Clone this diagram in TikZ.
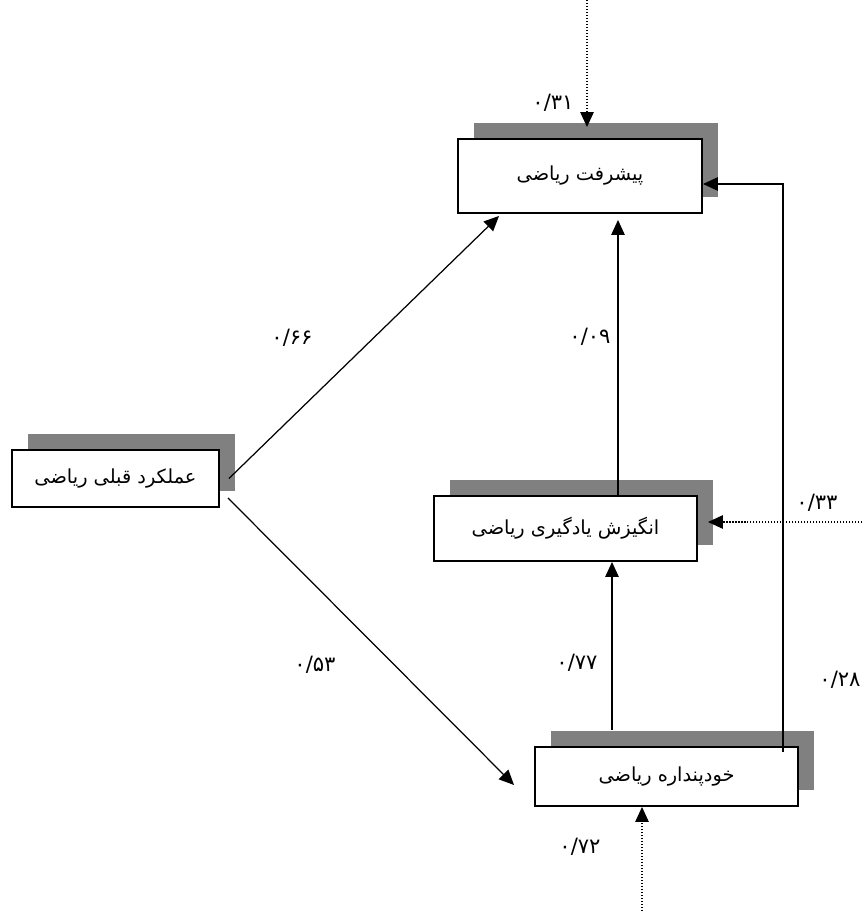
\documentclass[tikz,border=0pt]{standalone}
\usepackage{fontspec}
\newfontfamily\arabicfont[Script=Arabic]{DejaVu Sans}
\TeXXeTstate=1
\usetikzlibrary{arrows.meta,shadows}

\begin{document}
\begin{tikzpicture}[
  var/.style={draw=black, line width=1.1pt, fill=white, inner sep=0pt,
    font=\arabicfont\fontsize{11}{13}\selectfont,
    general shadow={fill=gray, shadow xshift=0.32cm, shadow yshift=0.32cm}},
  coef/.style={font=\arabicfont\fontsize{12}{14}\selectfont, inner sep=0pt},
  effect/.style={-{Triangle[length=0.3cm,width=0.27cm]}, line width=0.7pt},
  resid/.style={effect, densely dotted}
]
\useasboundingbox (0,0) rectangle (17.24,-18.22);
% variables
\node [var, minimum width=4.88cm, minimum height=1.48cm] (ach) at (11.6,-3.52) {\beginR پیشرفت ریاضی\endR};
\node [var, minimum width=4.14cm, minimum height=1.14cm] (prior) at (2.31,-9.57) {\beginR عملکرد قبلی ریاضی\endR};
\node [var, minimum width=5.26cm, minimum height=1.3cm] (motiv) at (11.31,-10.57) {\beginR انگیزش یادگیری ریاضی\endR};
\node [var, minimum width=5.26cm, minimum height=1.18cm] (self) at (13.33,-15.53) {\beginR خودپنداره ریاضی\endR};
% residual sources
\coordinate (e1) at (11.74,0);
\coordinate (e2) at (17.24,-10.44);
\coordinate (e3) at (12.84,-18.22);
\coordinate (m1) at ([xshift=1.05cm]motiv.north);
\coordinate (s1) at ([xshift=-1.09cm, yshift=0.32cm]self.north);
\coordinate (s2) at ([xshift=2.33cm, yshift=-0.12cm]self.north);
% paths
\draw [effect] ([xshift=0.18cm]prior.east) -- ([shift={(0.84,-0.04)}]ach.south west);
\draw [effect] ([shift={(0.16,-0.39)}]prior.east) -- ([shift={(-0.4,-0.17)}]self.west);
\draw [effect] (m1) -- ([yshift=-0.12cm]ach.south -| m1);
\draw [effect] (s1) -- (motiv.south -| s1);
\draw [effect] (s2) |- ([yshift=-0.16cm]ach.east);
\draw [resid] (e1) -- ([yshift=0.22cm]ach.north -| e1);
\draw [resid] (e2) -- ([xshift=0.2cm]motiv.east |- e2);
\draw [resid] (e3) -- (self.south -| e3);
% coefficients
\node [coef] (c31) at (11.06,-2.06) {۰/۳۱};
\node [coef] (c66) at (5.84,-6.76) {۰/۶۶};
\node [coef] (c09) at (11.8,-6.74) {۰/۰۹};
\node [coef] (c33) at (16.34,-10.06) {۰/۳۳};
\node [coef] (c53) at (6.3,-13.3) {۰/۵۳};
\node [coef] (c77) at (11.54,-13.26) {۰/۷۷};
\node [coef] (c28) at (16.8,-13.6) {۰/۲۸};
\node [coef] (c72) at (11.6,-16.94) {۰/۷۲};
\end{tikzpicture}
\end{document}
